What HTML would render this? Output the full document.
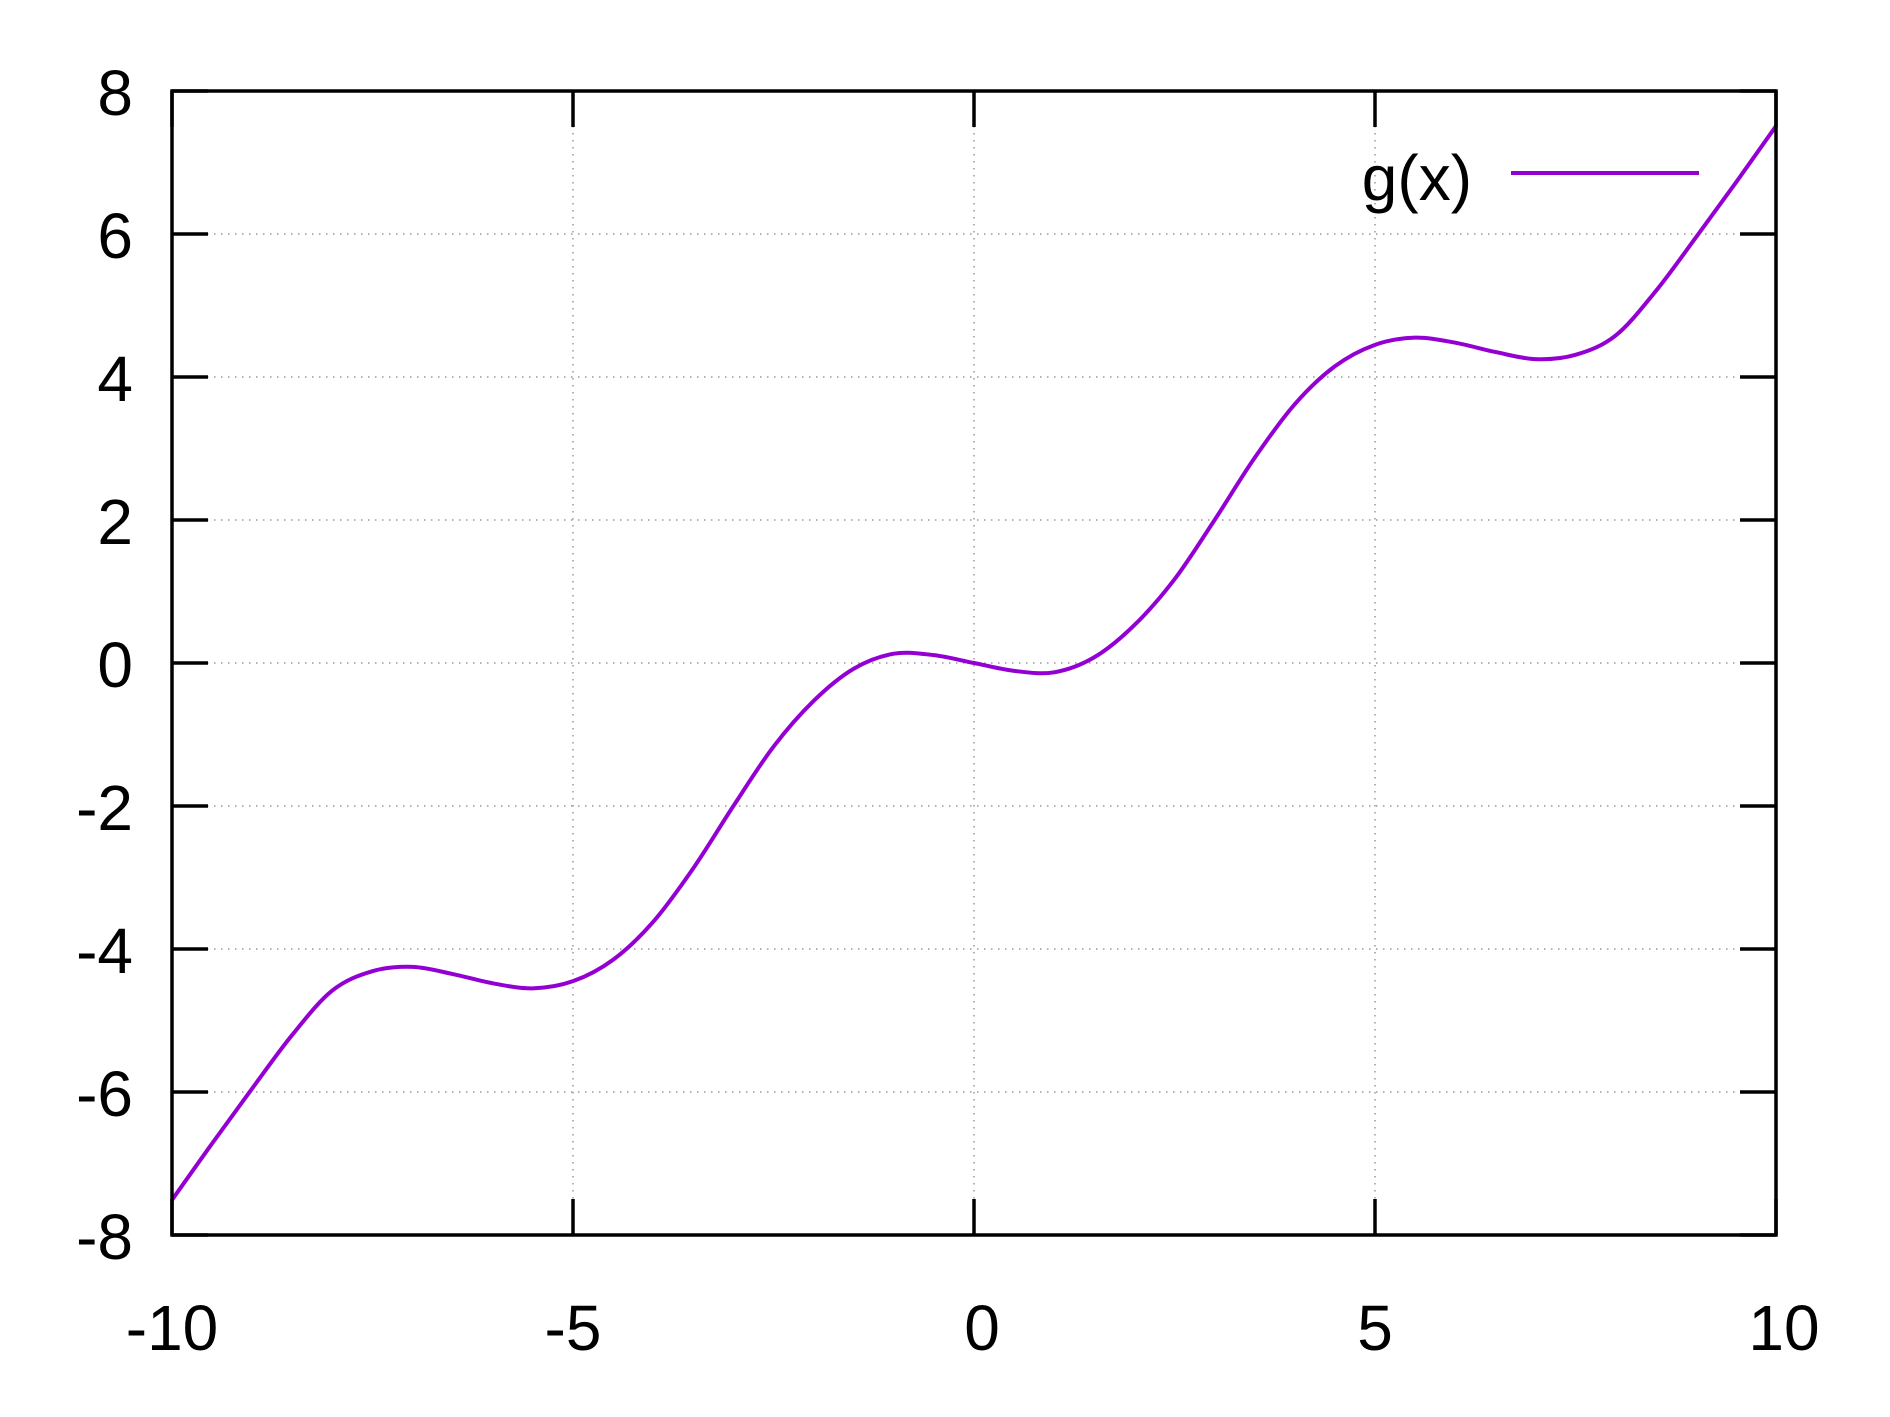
<!DOCTYPE html>
<html><head><meta charset="utf-8"><style>
html,body{margin:0;padding:0;background:#fff;}
svg{display:block;font-family:"Liberation Sans",sans-serif;}
</style></head><body>
<svg id="chart" width="1890" height="1417" viewBox="0 0 1890 1417">
<g id="grid"></g>
<g id="ticks"></g>
<g id="labels"></g>
<path id="curve" fill="none" stroke="#9400d3" stroke-width="4" stroke-linejoin="round"/>
<rect x="172" y="91" width="1604" height="1144" fill="none" stroke="#000" stroke-width="3.5"/>
<g>
<text x="1472" y="200" font-size="64" text-anchor="end" fill="#000">g(x)</text>
<line x1="1511" y1="173" x2="1699" y2="173" stroke="#9400d3" stroke-width="4"/>
</g>
</svg>
<script>
const xTicks = [-10, -5, 0, 5, 10];
const xTickLabels = ["-10", "-5", "0", "5", "10"];
const yTicks = [-8, -6, -4, -2, 0, 2, 4, 6, 8];
const yTickLabels = ["-8", "-6", "-4", "-2", "0", "2", "4", "6", "8"];
const xs = [-10,-9.5,-9,-8.5,-8,-7.5,-7,-6.5,-6,-5.5,-5,-4.5,-4,-3.5,-3,-2.5,-2,-1.5,-1,-0.5,0,0.5,1,1.5,2,2.5,3,3.5,4,4.5,5,5.5,6,6.5,7,7.5,8,8.5,9,9.5,10];
const ys = [-7.51,-6.72,-5.95,-5.2,-4.58,-4.31,-4.25,-4.35,-4.48,-4.55,-4.45,-4.15,-3.62,-2.87,-2.0,-1.17,-0.53,-0.08,0.13,0.11,0,-0.11,-0.13,0.08,0.53,1.17,2.0,2.87,3.62,4.15,4.45,4.55,4.48,4.35,4.25,4.31,4.58,5.2,5.95,6.72,7.51];

const L=172,R=1776,T=91,B=1235;
function sx(v){return L+(v+10)/20*(R-L);}
function sy(v){return B-(v+8)/16*(B-T);}
const NS="http://www.w3.org/2000/svg";
function mk(tag,attrs,parent){const e=document.createElementNS(NS,tag);for(const k in attrs)e.setAttribute(k,attrs[k]);parent.appendChild(e);return e;}
const grid=document.getElementById('grid'),ticks=document.getElementById('ticks'),labels=document.getElementById('labels');
xTicks.forEach((v,i)=>{
  const x=sx(v);
  if(v>-10&&v<10){
    const g=mk('line',{x1:x,y1:T,x2:x,y2:B,stroke:'#999','stroke-width':1.5,'stroke-dasharray':'1.5,5.5'},grid);
    
    
  }
  const t1=mk('line',{x1:x,y1:B,x2:x,y2:B-36,stroke:'#000','stroke-width':3.5},ticks);
  
  
  const t2=mk('line',{x1:x,y1:T,x2:x,y2:T+36,stroke:'#000','stroke-width':3.5},ticks);
  
  
  const tx=mk('text',{x:x+(v===0?8:(v===10?8:0)),y:1350,'font-size':64,'text-anchor':'middle',fill:'#000'},labels);
  tx.textContent=xTickLabels[i];
  
  
});
yTicks.forEach((v,i)=>{
  const y=sy(v);
  if(v>-8&&v<8){
    const g=mk('line',{x1:L,y1:y,x2:R,y2:y,stroke:'#999','stroke-width':1.5,'stroke-dasharray':'1.5,5.5'},grid);
    
    
  }
  const t1=mk('line',{x1:L,y1:y,x2:L+36,y2:y,stroke:'#000','stroke-width':3.5},ticks);
  
  
  const t2=mk('line',{x1:R,y1:y,x2:R-36,y2:y,stroke:'#000','stroke-width':3.5},ticks);
  
  
  const tx=mk('text',{x:133,y:y+24,'font-size':64,'text-anchor':'end',fill:'#000'},labels);
  tx.textContent=yTickLabels[i];
  
  
});
const pts=xs.map((x,i)=>[sx(x),sy(ys[i])]);
let d='M'+pts[0][0]+','+pts[0][1];
for(let i=0;i<pts.length-1;i++){
  const p0=pts[Math.max(0,i-1)],p1=pts[i],p2=pts[i+1],p3=pts[Math.min(pts.length-1,i+2)];
  const c1=[p1[0]+(p2[0]-p0[0])/6,p1[1]+(p2[1]-p0[1])/6];
  const c2=[p2[0]-(p3[0]-p1[0])/6,p2[1]-(p3[1]-p1[1])/6];
  d+=' C'+c1[0]+','+c1[1]+' '+c2[0]+','+c2[1]+' '+p2[0]+','+p2[1];
}
document.getElementById('curve').setAttribute('d',d);
</script>
</body></html>
